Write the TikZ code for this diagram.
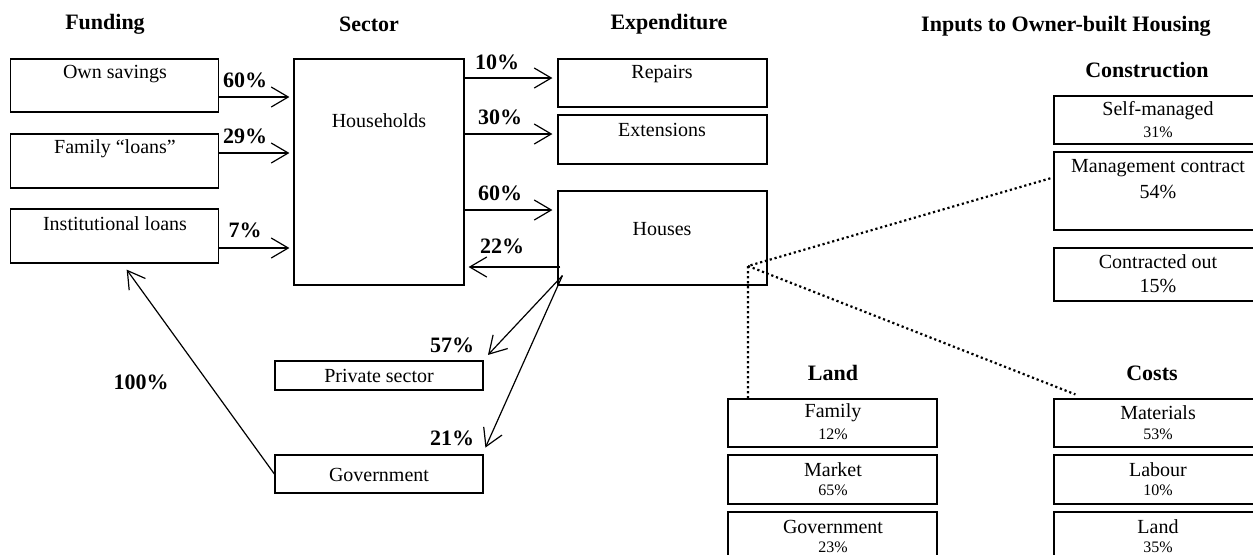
\documentclass[tikz,border=0pt]{standalone}
\usepackage{fontspec}
\setmainfont{Liberation Serif}
\usetikzlibrary{arrows.meta,fit}
\begin{document}
\begin{tikzpicture}[x=0.5pt,y=-0.5pt,
  box/.style={draw,line width=0.6pt,inner sep=0pt},
  hd/.style={font=\fontsize{11}{13}\selectfont\bfseries},
  pct/.style={font=\fontsize{11}{13}\selectfont\bfseries},
  lbl/.style={font=\fontsize{10}{12}\selectfont},
  sml/.style={font=\fontsize{8}{9.6}\selectfont},
  arr/.style={line width=0.6pt,-{Straight Barb[length=8.5pt,width=10pt,line width=0.6pt]}},
  dotline/.style={line width=1.1pt,dash pattern=on 1.1pt off 1.4pt}]
\clip (0,0) rectangle (1253,554);
% headings
\node[hd] (hfund) at (105,24) {Funding};
\node[hd] (hsec) at (369,24) {Sector};
\node[hd] (hexp) at (669,24) {Expenditure};
\node[hd] (hinp) at (1066,26) {Inputs to Owner-built Housing};
\node[hd] (hcon) at (1147,70) {Construction};
\node[hd] (hland) at (833,373) {Land};
\node[hd] (hcost) at (1152,373) {Costs};
% funding boxes
\node[box,fit={(10.7,59)(218.6,112)}] (os) {};
\node[lbl] (tos) at (115,74) {Own savings};
\node[box,fit={(10.7,134)(218.6,188)}] (fl) {};
\node[lbl] (tfl) at (115,149) {Family “loans”};
\node[box,fit={(10.7,209)(218.6,263)}] (il) {};
\node[lbl] (til) at (115,224) {Institutional loans};
% sector
\node[box,fit={(294,59)(464,285)}] (hh) {};
\node[lbl] (thh) at (379,121) {Households};
\node[box,fit={(275,361)(483,390)}] (ps) {};
\node[lbl] (tps) at (379,376) {Private sector};
\node[box,fit={(275,455)(483,493)}] (gov) {};
\node[lbl] (tgov) at (379,475) {Government};
% expenditure
\node[box,fit={(558,59)(767,107)}] (rep) {};
\node[lbl] (trep) at (662,74) {Repairs};
\node[box,fit={(558,115)(767,164)}] (ext) {};
\node[lbl] (text) at (662,130) {Extensions};
\node[box,fit={(558,191)(767,285)}] (hou) {};
\node[lbl] (thou) at (662,229) {Houses};
% construction
\node[box,fit={(1054,96)(1265,144)}] (sm) {};
\node[lbl] (tsm) at (1158,111) {Self-managed};
\node[sml] (psm) at (1158,132) {31\%};
\node[box,fit={(1054,152)(1265,230)}] (mc) {};
\node[lbl] (tmc) at (1158,168) {Management contract};
\node[lbl] (pmc) at (1158,192) {54\%};
\node[box,fit={(1054,248)(1265,301)}] (co) {};
\node[lbl] (tco) at (1158,262) {Contracted out};
\node[lbl] (pco) at (1158,286) {15\%};
% land
\node[box,fit={(728,399)(937,447)}] (lf) {};
\node[lbl] (tlf) at (833,413) {Family};
\node[sml] (plf) at (833,434) {12\%};
\node[box,fit={(728,455)(937,504)}] (lm) {};
\node[lbl] (tlm) at (833,470) {Market};
\node[sml] (plm) at (833,490) {65\%};
\node[box,fit={(728,512)(937,575)}] (lg) {};
\node[lbl] (tlg) at (833,527) {Government};
\node[sml] (plg) at (833,547) {23\%};
% costs
\node[box,fit={(1054,399)(1265,447)}] (cm) {};
\node[lbl] (tcm) at (1158,413) {Materials};
\node[sml] (pcm) at (1158,434) {53\%};
\node[box,fit={(1054,455)(1265,504)}] (cl) {};
\node[lbl] (tcl) at (1158,470) {Labour};
\node[sml] (pcl) at (1158,490) {10\%};
\node[box,fit={(1054,512)(1265,575)}] (cla) {};
\node[lbl] (tcla) at (1158,527) {Land};
\node[sml] (pcla) at (1158,547) {35\%};
% arrows funding -> households
\draw[arr,shorten >=2pt] (os.east |- 0,97) -- (hh.west |- 0,97);
\draw[arr,shorten >=2pt] (fl.east |- 0,153) -- (hh.west |- 0,153);
\draw[arr,shorten >=2pt] (il.east |- 0,248) -- (hh.west |- 0,248);
\node[pct] (p60a) at (245,80) {60\%};
\node[pct] (p29) at (245,136) {29\%};
\node[pct] (p7) at (245,230) {7\%};
% households -> expenditure
\draw[arr,shorten >=2.5pt] (hh.east |- 0,78) -- (rep.west |- 0,78);
\draw[arr,shorten >=2.5pt] (hh.east |- 0,134) -- (ext.west |- 0,134);
\draw[arr,shorten >=2.5pt] (hh.east |- 0,210) -- (hou.west |- 0,210);
\node[pct] (p10) at (497,62) {10\%};
\node[pct] (p30) at (500,117) {30\%};
\node[pct] (p60b) at (500,193) {60\%};
% houses -> households
\draw[arr,shorten >=2pt] ([xshift=1.5pt]hou.west |- 0,267) -- (hh.east |- 0,267);
\node[pct] (p22) at (502,246) {22\%};
% houses -> private / government
\coordinate (hs) at ([xshift=2.5pt,yshift=5pt]hou.south west);
\draw[arr,shorten >=1pt] (hs) -- ([xshift=1.5pt,yshift=2pt]ps.north east);
\draw[arr,shorten >=1pt] (hs) -- ([xshift=0.5pt,yshift=2.5pt]gov.north east);
\node[pct] (p57) at (452,345) {57\%};
\node[pct] (p21) at (452,438) {21\%};
% government -> institutional loans
\draw[arr] (gov.west) -- ([xshift=6pt,yshift=-3pt]il.south);
\node[pct] (p100) at (141,382) {100\%};
% dotted links
\coordinate (J) at (748,266);
\draw[dotline] (J |- lf.north) -- (J) -- ([xshift=-1pt]mc.west |- 0,178);
\draw[dotline] (J) -- ([xshift=11pt,yshift=2pt]cm.north west);
\end{tikzpicture}
\end{document}
